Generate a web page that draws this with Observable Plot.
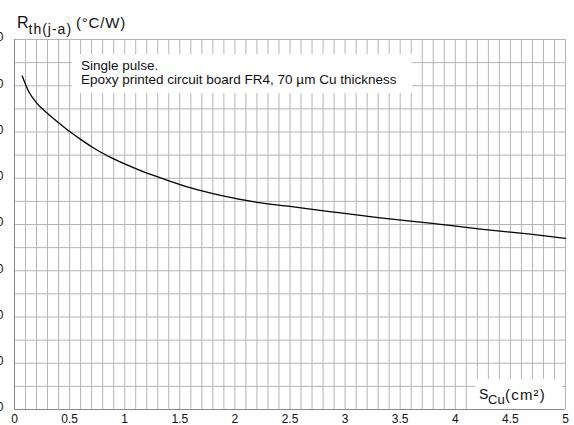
<!DOCTYPE html>
<html>
<head>
<meta charset="utf-8">
<script src="https://cdn.jsdelivr.net/npm/d3@7"></script>
<script src="https://cdn.jsdelivr.net/npm/@observablehq/plot@0.6"></script>
<style>
  html, body { margin: 0; padding: 0; background: white; }
  #wrap { position: relative; width: 574px; height: 425px; overflow: hidden;
          font-family: "Liberation Sans", Arial, sans-serif; color: #111; }
  .ov { position: absolute; white-space: nowrap; line-height: 1; }
  .box { position: absolute; background: white; }
</style>
</head>
<body>
<div id="wrap">
  <div class="box" style="left:72px;top:54px;width:340px;height:39px"></div>
  <div class="box" style="left:475px;top:379px;width:87px;height:30px"></div>
  <div class="ov" style="left:17px;top:14.5px;font-size:16px">R</div>
  <div class="ov" style="left:28.5px;top:21.6px;font-size:14px;letter-spacing:1px">th(j-a)</div>
  <div class="ov" style="left:76px;top:15.3px;font-size:15px;letter-spacing:0.8px">(°C/W)</div>
  <div class="ov" style="left:81px;top:59px;font-size:13.5px">Single pulse.</div>
  <div class="ov" style="left:81px;top:72.6px;font-size:13.5px">Epoxy printed circuit board FR4, 70 µm Cu thickness</div>
  <div class="ov" style="left:479px;top:387.1px;font-size:14px">S</div>
  <div class="ov" style="left:488px;top:393px;font-size:13px">Cu</div>
  <div class="ov" style="left:505px;top:387.3px;font-size:15px;letter-spacing:1.2px">(cm²)</div>
</div>
<script>
// Copper surface (cm²) and thermal resistance junction-to-ambient (°C/W)
const sCu = [0.07, 0.13, 0.2, 0.3, 0.4, 0.5, 0.6, 0.7, 0.8, 0.9, 1.0, 1.15, 1.3, 1.6, 1.87, 2.2, 2.5, 2.86, 3.3, 3.77, 4.23, 4.68, 5.0];
const rth = [72.1, 68.7, 66.3, 64.0, 62.0, 60.1, 58.4, 56.8, 55.4, 54.2, 53.1, 51.6, 50.3, 47.9, 46.3, 44.8, 43.9, 42.8, 41.5, 40.3, 39.0, 37.9, 37.0];

const xTicks = [0, 0.5, 1, 1.5, 2, 2.5, 3, 3.5, 4, 4.5, 5];
const yTicks = [0, 10, 20, 30, 40, 50, 60, 70, 80];
const xGrid = d3.range(0, 51).map(i => i / 10);
const yGrid = d3.range(0, 17).map(i => i * 5);

const data = sCu.map((x, i) => ({x, y: rth[i]}));

const chart = Plot.plot({
  width: 574,
  height: 425,
  marginLeft: 14,
  marginRight: 9,
  marginTop: 39,
  marginBottom: 16,
  style: {fontFamily: "'Liberation Sans', Arial, sans-serif", fontSize: "12px", color: "#111", background: "white"},
  x: {domain: [0, 5]},
  y: {domain: [0, 80]},
  marks: [
    Plot.gridX(xGrid, {stroke: "#b4b4b4", strokeOpacity: 1}),
    Plot.gridY(yGrid, {stroke: "#b4b4b4", strokeOpacity: 1}),
    Plot.ruleX([0], {stroke: "#8a8a8a"}),
    Plot.ruleY([0], {stroke: "#8a8a8a"}),
    Plot.axisX(xTicks, {tickSize: 0, tickPadding: 5, label: null, tickFormat: d => String(d)}),
    Plot.axisY(yTicks, {tickSize: 0, tickPadding: 11, label: null, dy: -2, tickFormat: d => String(d)}),
    Plot.line(data, {x: "x", y: "y", stroke: "black", strokeWidth: 1.3, curve: "monotone-x"})
  ]
});
chart.style.position = "absolute";
chart.style.left = "0";
chart.style.top = "0";
const wrap = document.getElementById("wrap");
wrap.insertBefore(chart, wrap.firstChild);
</script>
</body>
</html>
